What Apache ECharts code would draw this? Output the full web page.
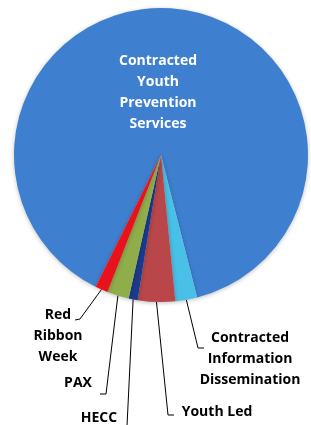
<!DOCTYPE html>
<html>
<head>
<meta charset="utf-8">
<script src="https://cdn.jsdelivr.net/npm/echarts@6/dist/echarts.min.js"></script>
<style>
  html, body { margin: 0; padding: 0; background: #fff; }
  #chart { width: 311px; height: 425px; }
</style>
</head>
<body>
<div id="chart"></div>
<script>
// slices, clockwise from the left edge of the big slice
let names = [
    'Contracted\nYouth\nPrevention\nServices',
    'Contracted\nInformation\nDissemination',
    'Youth Led',
    'HECC',
    'PAX',
    'Red\nRibbon\nWeek'
];
let values = [88.8, 2.4, 4.1, 1.0, 2.4, 1.4];
let colors = ['#3f7fd0', '#48c0e8', '#b9474a', '#1c3a8c', '#8fae4a', '#e8121c'];

// where each label sits and how its leader line bends (pixels)
let labelPos = [
    { x: 158, y: 93 },
    { x: 250, y: 359, bend: [198, 348], end: [204, 348] },
    { x: 217, y: 412, bend: [168, 415], end: [174, 415] },
    { x: 99, y: 418, bend: [127, 426], end: [127, 432] },
    { x: 78, y: 383, bend: [106, 394], end: [100, 394] },
    { x: 58, y: 336, bend: [80, 319], end: [75, 320] }
];

let myChart = echarts.init(document.getElementById('chart'));

let seriesData = names.map(function (n, i) {
    let item = {
        name: n,
        value: values[i],
        itemStyle: { color: colors[i] }
    };
    if (i === 0) {
        item.label = { color: '#fff' };
        item.labelLine = { show: false };
    }
    return item;
});

let option = {
    backgroundColor: '#fff',
    animation: false,
    series: [{
        type: 'pie',
        center: [161, 155],
        radius: [0, 147],
        startAngle: 243.6,
        clockwise: true,
        avoidLabelOverlap: false,
        data: seriesData,
        itemStyle: {
            borderWidth: 0,
            shadowBlur: 4,
            shadowColor: 'rgba(0,0,0,0.25)',
            shadowOffsetY: 1
        },
        label: {
            show: true,
            position: 'outside',
            formatter: '{b}',
            fontFamily: 'Open Sans',
            fontWeight: 'bold',
            fontSize: 14,
            lineHeight: 21,
            color: '#000',
            align: 'center'
        },
        labelLine: {
            show: true,
            length: 10,
            length2: 5,
            lineStyle: { color: '#000', width: 1 }
        },
        labelLayout: function (params) {
            let p = labelPos[params.dataIndex];
            let out = {
                x: p.x,
                y: p.y,
                align: 'center',
                verticalAlign: 'middle'
            };
            if (p.bend && params.labelLinePoints) {
                let a = params.labelLinePoints[0];
                out.labelLinePoints = [a, p.bend, p.end];
            }
            return out;
        }
    }]
};

myChart.setOption(option, true);
</script>
</body>
</html>
